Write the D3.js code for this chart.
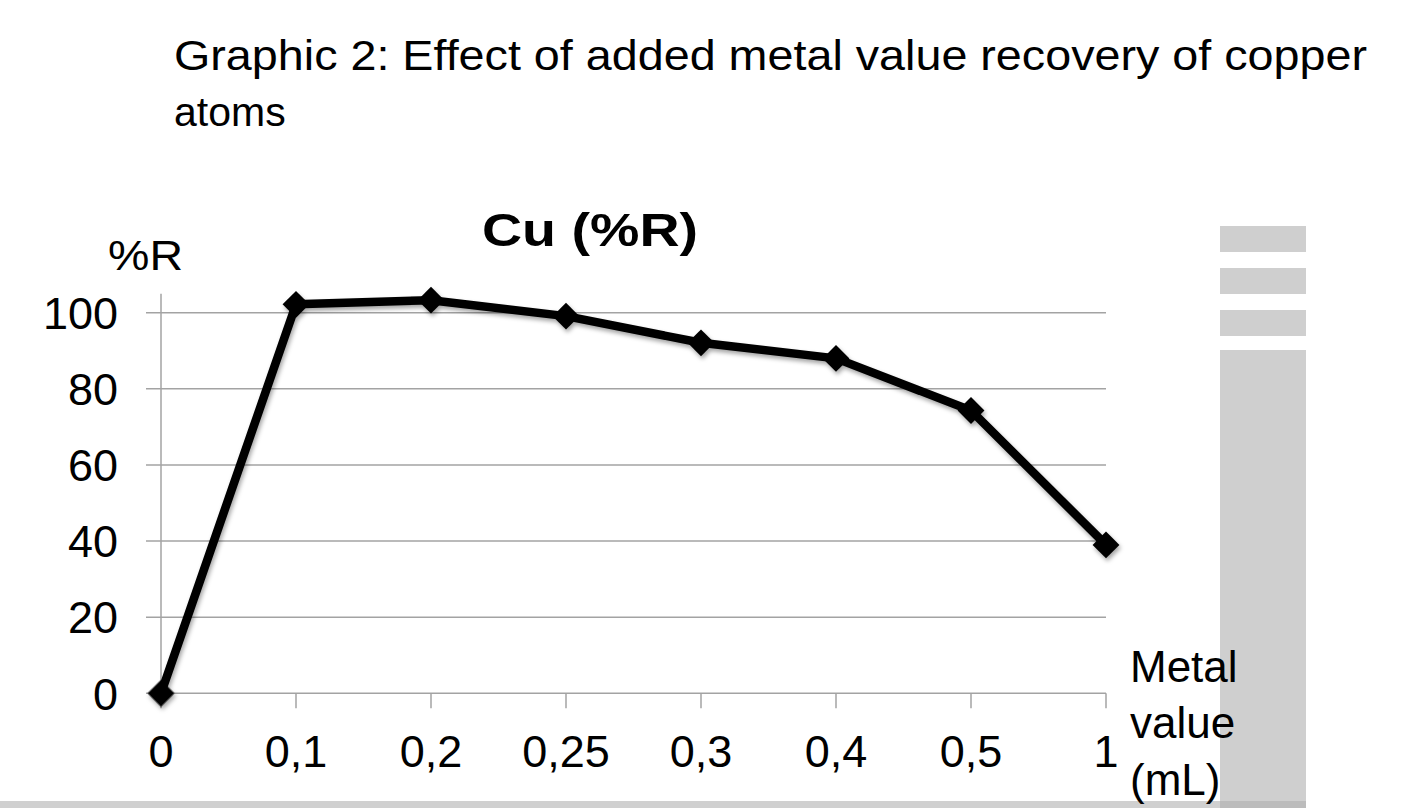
<!DOCTYPE html>
<html>
<head>
<meta charset="utf-8">
<script src="https://cdn.jsdelivr.net/npm/d3@7"></script>
<style>
  body { margin: 0; background: #fff; }
  text { font-family: "Liberation Sans", Arial, sans-serif; fill: #000; }
</style>
</head>
<body>
<script>

// chart data
var categories = ["0", "0,1", "0,2", "0,25", "0,3", "0,4", "0,5", "1"];
var recovery = [0, 102.2, 103.3, 99.1, 92.1, 88.0, 74.3, 39.0];
var yTicks = [0, 20, 40, 60, 80, 100];

var width = 1405,
    height = 808;

var svg = d3.select("body").append("svg")
    .attr("width", width)
    .attr("height", height);

// soft shadow under the line and markers
var defs = svg.append("defs");
var filter = defs.append("filter")
    .attr("id", "shadow")
    .attr("x", "-20%").attr("y", "-20%")
    .attr("width", "140%").attr("height", "140%");
filter.append("feDropShadow")
    .attr("dx", 1.5)
    .attr("dy", 3)
    .attr("stdDeviation", 2)
    .attr("flood-color", "#000")
    .attr("flood-opacity", 0.35);

// slide decoration on the right and bottom
var deco = svg.append("g");
[[226, 252], [268, 294], [310, 336], [350, 808]].forEach(function(b) {
    deco.append("rect")
        .attr("x", 1220)
        .attr("y", b[0])
        .attr("width", 86)
        .attr("height", b[1] - b[0])
        .attr("fill", "#cfcfcf");
});
deco.append("rect")
    .attr("x", 0).attr("y", 801)
    .attr("width", 1220).attr("height", 7)
    .attr("fill", "#d0d0d0");
deco.append("rect")
    .attr("x", 1220).attr("y", 801)
    .attr("width", 86).attr("height", 7)
    .attr("fill", "#bcbcbc");

// slide title (first line is justified in the slide)
svg.append("text")
    .attr("x", 174)
    .attr("y", 70)
    .attr("font-size", 42)
    .attr("textLength", 1193)
    .attr("lengthAdjust", "spacingAndGlyphs")
    .text("Graphic 2: Effect of added metal value recovery of copper");
svg.append("text")
    .attr("x", 174)
    .attr("y", 126)
    .attr("font-size", 41)
    .text("atoms");

// scales
var x = d3.scalePoint()
    .domain(categories)
    .range([161, 1106]);

var y = d3.scaleLinear()
    .domain([0, 105])
    .range([693.3, 293.7]);

// gridlines
svg.append("g")
    .selectAll("line")
    .data(yTicks)
    .enter()
    .append("line")
    .attr("x1", 146)
    .attr("x2", 1106)
    .attr("y1", function(d) { return y(d); })
    .attr("y2", function(d) { return y(d); })
    .attr("stroke", "#a3a3a3")
    .attr("stroke-width", 1.5);

// y axis line
svg.append("line")
    .attr("x1", x(categories[0])).attr("x2", x(categories[0]))
    .attr("y1", y(0)).attr("y2", y(105))
    .attr("stroke", "#a3a3a3")
    .attr("stroke-width", 1.5);

// x tick marks
svg.append("g")
    .selectAll("line")
    .data(categories)
    .enter()
    .append("line")
    .attr("x1", function(d) { return x(d); })
    .attr("x2", function(d) { return x(d); })
    .attr("y1", y(0))
    .attr("y2", y(0) + 15)
    .attr("stroke", "#a3a3a3")
    .attr("stroke-width", 1.5);

// y tick labels
svg.append("g")
    .selectAll("text")
    .data(yTicks)
    .enter()
    .append("text")
    .attr("x", 118)
    .attr("y", function(d) { return y(d); })
    .attr("dy", "0.36em")
    .attr("text-anchor", "end")
    .attr("font-size", 45)
    .text(function(d) { return d; });

// x tick labels
svg.append("g")
    .selectAll("text")
    .data(categories)
    .enter()
    .append("text")
    .attr("x", function(d) { return x(d); })
    .attr("y", 767)
    .attr("text-anchor", "middle")
    .attr("font-size", 45)
    .text(function(d) { return d; });

// chart title and axis titles
svg.append("text")
    .attr("x", 482)
    .attr("y", 246)
    .attr("font-size", 46)
    .attr("font-weight", "bold")
    .attr("textLength", 216)
    .attr("lengthAdjust", "spacingAndGlyphs")
    .text("Cu (%R)");

svg.append("text")
    .attr("x", 108)
    .attr("y", 270)
    .attr("font-size", 43)
    .attr("textLength", 75)
    .attr("lengthAdjust", "spacingAndGlyphs")
    .text("%R");

var xTitle = svg.append("text")
    .attr("font-size", 44);
[["Metal", 682], ["value", 738], ["(mL)", 795]].forEach(function(t) {
    xTitle.append("tspan")
        .attr("x", 1130)
        .attr("y", t[1])
        .text(t[0]);
});

// series line and markers
var points = categories.map(function(c, i) { return {cat: c, value: recovery[i]}; });

var line = d3.line()
    .x(function(d) { return x(d.cat); })
    .y(function(d) { return y(d.value); });

var series = svg.append("g")
    .attr("filter", "url(#shadow)");

series.append("path")
    .datum(points)
    .attr("d", line)
    .attr("fill", "none")
    .attr("stroke", "#000")
    .attr("stroke-width", 8.5)
    .attr("stroke-linejoin", "round");

series.selectAll(".marker")
    .data(points)
    .enter()
    .append("path")
    .attr("class", "marker")
    .attr("d", d3.symbol().type(d3.symbolSquare).size(360))
    .attr("transform", function(d) {
        return "translate(" + x(d.cat) + "," + y(d.value) + ") rotate(45)";
    })
    .attr("fill", "#000");

</script>
</body>
</html>
